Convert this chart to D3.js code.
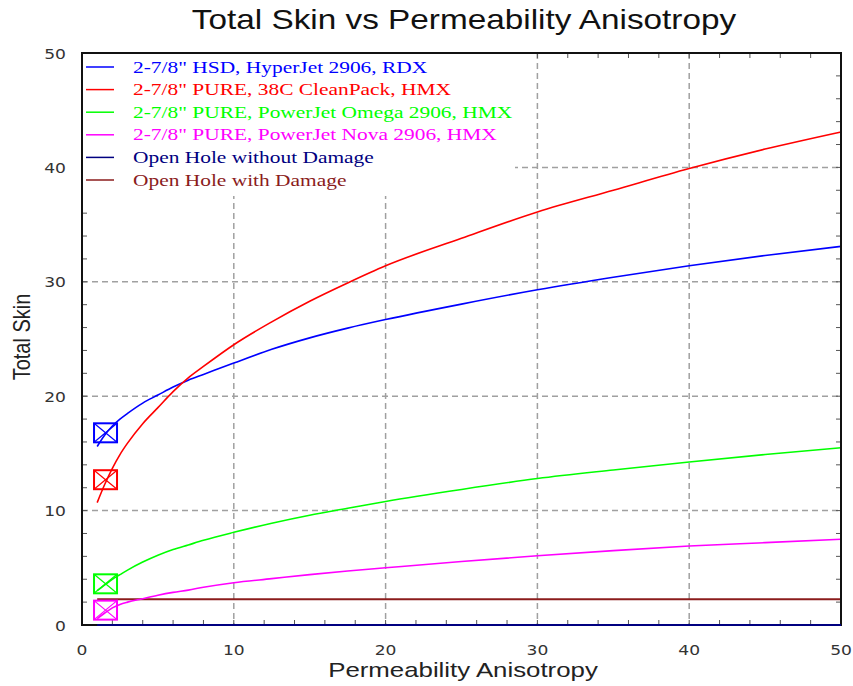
<!DOCTYPE html>
<html>
<head>
<meta charset="utf-8">
<script src="https://cdn.jsdelivr.net/npm/d3@7"></script>
<style>
  html, body { margin: 0; padding: 0; background: #fff; }
  svg { display: block; }
</style>
</head>
<body>
<svg id="chart" width="853" height="686"></svg>
<script>
// Permeability anisotropy (kh/kv) sample points
const anisotropy = [1, 1.5, 2, 2.5, 3, 4, 5, 6, 7, 8, 10, 12.5, 15, 17.5, 20, 25, 30, 35, 40, 45, 50];

// Total skin for each perforating system
const hsdHyperJet   = [15.6, 16.6, 17.4, 18.0, 18.5, 19.4, 20.1, 20.8, 21.4, 21.9, 22.9, 24.1, 25.1, 25.95, 26.7, 28.05, 29.3, 30.4, 31.4, 32.3, 33.1];
const pureCleanPack = [10.7, 12.3, 13.7, 14.9, 15.9, 17.6, 19.0, 20.4, 21.6, 22.6, 24.5, 26.5, 28.3, 29.9, 31.4, 33.8, 36.1, 38.0, 39.9, 41.6, 43.1];
const pureOmega     = [3.0, 3.5, 4.0, 4.4, 4.8, 5.5, 6.1, 6.6, 7.0, 7.4, 8.1, 8.9, 9.6, 10.2, 10.8, 11.85, 12.8, 13.55, 14.25, 14.9, 15.5];
const pureNova      = [0.55, 1.05, 1.5, 1.8, 2.0, 2.3, 2.6, 2.85, 3.05, 3.3, 3.7, 4.05, 4.4, 4.72, 5.0, 5.55, 6.05, 6.5, 6.9, 7.2, 7.5];
const openHoleNoDamage   = anisotropy.map(() => 0);
const openHoleWithDamage = anisotropy.map(() => 2.25);

// Current-condition markers (anisotropy, skin)
const markerX = 1.55;
const markerSkin = [16.8, 12.7, 3.6, 1.3];

const seriesNames = [
  '2-7/8" HSD, HyperJet 2906, RDX',
  '2-7/8" PURE, 38C CleanPack, HMX',
  '2-7/8" PURE, PowerJet Omega 2906, HMX',
  '2-7/8" PURE, PowerJet Nova 2906, HMX',
  'Open Hole without Damage',
  'Open Hole with Damage'
];
const seriesColors = ["#0000ff", "#ff0000", "#00ff00", "#ff00ff", "#000080", "#8b1c1c"];
const seriesValues = [hsdHyperJet, pureCleanPack, pureOmega, pureNova, openHoleNoDamage, openHoleWithDamage];

const xTicks = [0, 10, 20, 30, 40, 50];
const yTicks = [0, 10, 20, 30, 40, 50];

const svg = d3.select("#chart");
const plot = { left: 82, right: 841, top: 53, bottom: 625 };

const x = d3.scaleLinear().domain([0, 50]).range([plot.left, plot.right]);
const y = d3.scaleLinear().domain([0, 50]).range([plot.bottom, plot.top]);

// Text is drawn slightly widened horizontally
const SX = 1.22;
function label(parent, px, py, str, opts) {
  return parent.append("text")
    .attr("transform", `translate(${px},${py}) scale(${opts.sx || SX},1)` + (opts.rotate ? ` rotate(${opts.rotate})` : ""))
    .attr("text-anchor", opts.anchor || "start")
    .attr("font-family", opts.family)
    .attr("font-size", opts.size)
    .attr("fill", opts.fill || "#222")
    .text(str);
}

const sans = "Liberation Sans, Arial, sans-serif";
const serif = "Liberation Serif, Times New Roman, serif";
const tickFont = "DejaVu Sans, Verdana, sans-serif";

// Title
label(svg, 464, 29, "Total Skin vs Permeability Anisotropy", { anchor: "middle", family: sans, size: 28, fill: "#111", sx: 1.19 });

// Gridlines (dashed)
const grid = svg.append("g").attr("stroke", "#a0a0a0").attr("stroke-width", 1.5).attr("stroke-dasharray", "6,4");
xTicks.slice(1, -1).forEach(v => {
  grid.append("line").attr("x1", x(v)).attr("x2", x(v)).attr("y1", plot.top).attr("y2", plot.bottom);
});
yTicks.slice(1, -1).forEach(v => {
  grid.append("line").attr("x1", plot.left).attr("x2", plot.right).attr("y1", y(v)).attr("y2", y(v));
});

// Minor ticks (inward on all four sides)
const minor = d3.range(2, 50, 2);
const ticks = svg.append("g").attr("stroke", "#555").attr("stroke-width", 1);
minor.forEach(v => {
  ticks.append("line").attr("x1", x(v)).attr("x2", x(v)).attr("y1", plot.bottom).attr("y2", plot.bottom - 5);
  ticks.append("line").attr("x1", x(v)).attr("x2", x(v)).attr("y1", plot.top).attr("y2", plot.top + 5);
  ticks.append("line").attr("y1", y(v)).attr("y2", y(v)).attr("x1", plot.left).attr("x2", plot.left + 5);
  ticks.append("line").attr("y1", y(v)).attr("y2", y(v)).attr("x1", plot.right).attr("x2", plot.right - 5);
});

// Legend background hides the gridlines behind it
svg.append("rect")
  .attr("x", plot.left + 1).attr("y", plot.top + 1)
  .attr("width", 432).attr("height", 142)
  .attr("fill", "#fff");

// Curves
const line = d3.line()
  .x((d, i) => x(anisotropy[i]))
  .y(d => y(d))
  .curve(d3.curveMonotoneX);

const order = [5, 3, 2, 0, 1];
order.forEach(k => {
  svg.append("path")
    .datum(seriesValues[k])
    .attr("fill", "none")
    .attr("stroke", seriesColors[k])
    .attr("stroke-width", k >= 4 ? 2 : 1.6)
    .attr("d", line);
});

// Markers: rectangle with a cross
markerSkin.forEach((s, k) => {
  const cx = x(markerX), cy = y(s);
  const w = 23, h = 19;
  const g = svg.append("g").attr("stroke", seriesColors[k]).attr("fill", "none");
  g.append("rect").attr("x", cx - w / 2).attr("y", cy - h / 2).attr("width", w).attr("height", h).attr("stroke-width", 2);
  g.append("line").attr("x1", cx - w / 2).attr("y1", cy - h / 2).attr("x2", cx + w / 2).attr("y2", cy + h / 2).attr("stroke-width", 1.2);
  g.append("line").attr("x1", cx - w / 2).attr("y1", cy + h / 2).attr("x2", cx + w / 2).attr("y2", cy - h / 2).attr("stroke-width", 1.2);
});

// Frame
svg.append("rect")
  .attr("x", plot.left).attr("y", plot.top)
  .attr("width", plot.right - plot.left).attr("height", plot.bottom - plot.top)
  .attr("fill", "none").attr("stroke", "#111").attr("stroke-width", 2);

// Zero-skin line drawn over the frame
svg.append("path")
  .datum(openHoleNoDamage)
  .attr("fill", "none")
  .attr("stroke", seriesColors[4])
  .attr("stroke-width", 2)
  .attr("d", line);

// Tick labels
xTicks.forEach(d => label(svg, x(d), 655, d, { anchor: "middle", family: tickFont, size: 14.5, fill: "#333", sx: 1.18 }));
yTicks.forEach(d => label(svg, 66, y(d) + 5.5, d, { anchor: "end", family: tickFont, size: 14.5, fill: "#333", sx: 1.18 }));

// Axis titles
label(svg, 463, 677, "Permeability Anisotropy", { anchor: "middle", family: sans, size: 21, fill: "#222", sx: 1.23 });
label(svg, 30, 337, "Total Skin", { anchor: "middle", family: sans, size: 20, fill: "#222", sx: 1.2, rotate: -90 });

// Legend
const legend = svg.append("g");
seriesNames.forEach((name, i) => {
  const ly = 67 + i * 22.6;
  legend.append("line")
    .attr("x1", 86).attr("x2", 114).attr("y1", ly).attr("y2", ly)
    .attr("stroke", seriesColors[i]).attr("stroke-width", 1.5);
  label(legend, 133, ly + 5.5, name, { family: serif, size: 17, fill: seriesColors[i], sx: 1.26 });
});
</script>
</body>
</html>
